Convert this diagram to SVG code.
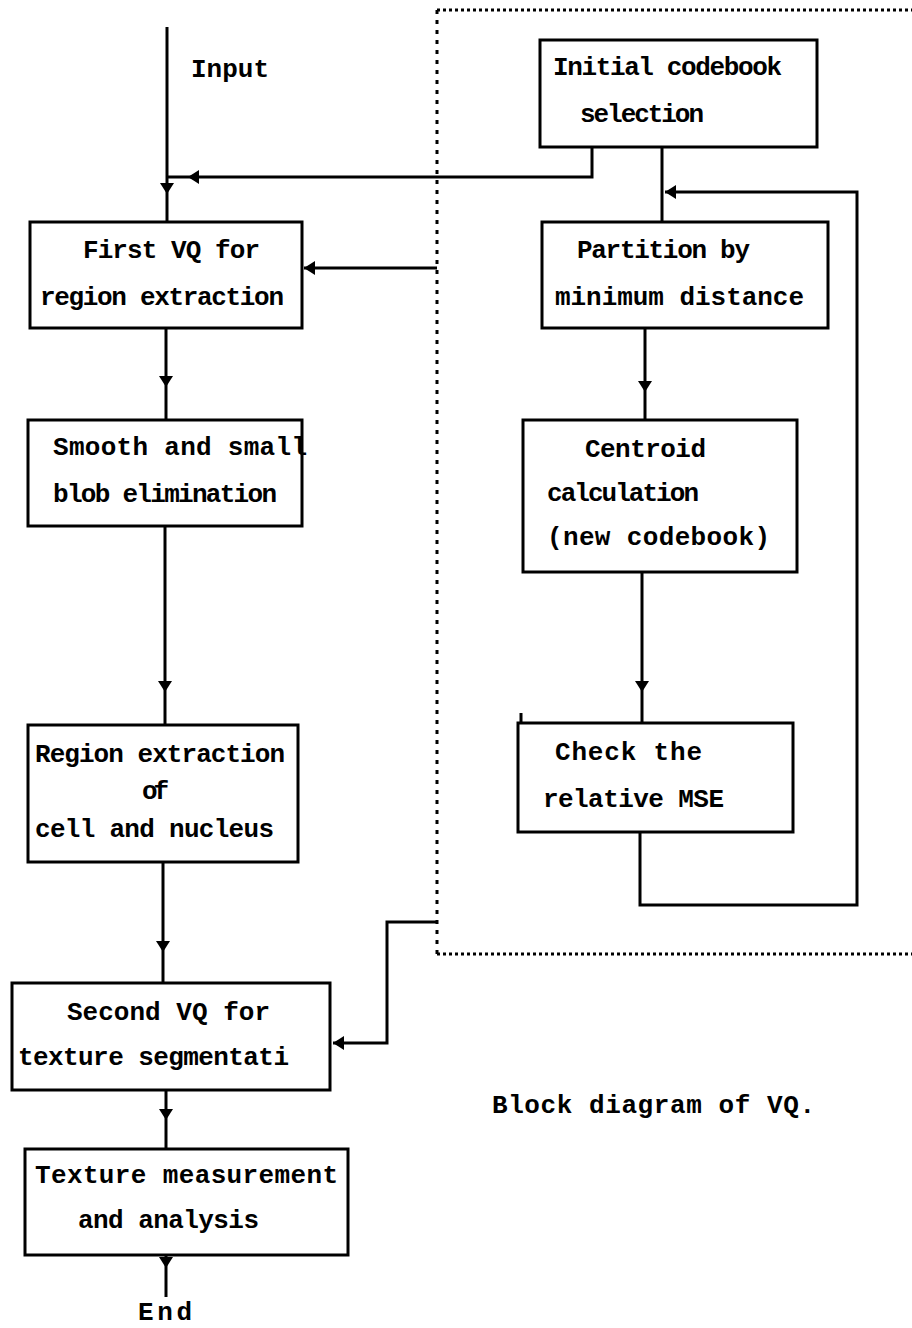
<svg xmlns="http://www.w3.org/2000/svg" xmlns:xlink="http://www.w3.org/1999/xlink" width="912" height="1328" viewBox="0 0 912 1328">
<style>
.box{fill:none;stroke:#000;stroke-width:3}
.ln{fill:none;stroke:#000;stroke-width:3;stroke-linejoin:miter}
.dot{fill:none;stroke:#000;stroke-width:3;stroke-dasharray:3 3}
.dotv{fill:none;stroke:#000;stroke-width:3;stroke-dasharray:4 6}
text{font-family:"Liberation Mono","Courier New",monospace;font-weight:bold;font-size:26px;fill:#000}
</style>
<defs>
<path id="ah" d="M0,0 L-11,-7 L-11,7 Z" fill="#000"/>
</defs>
<rect width="912" height="1328" fill="#fff"/>

<g id="frame">
<path class="dotv" d="M437,10 V954"/>
<path class="dot" d="M437,10 H912"/>
<path class="dot" d="M437,954 H912"/>
</g>

<g id="connectors">
<path class="ln" d="M167,27 V222"/>
<use xlink:href="#ah" transform="translate(167,194) rotate(90)"/>
<path class="ln" d="M592,147 V177 H167"/>
<use xlink:href="#ah" transform="translate(188,177) rotate(180)"/>
<path class="ln" d="M437,268 H304"/>
<use xlink:href="#ah" transform="translate(304,268) rotate(180)"/>
<path class="ln" d="M166,328 V420"/>
<use xlink:href="#ah" transform="translate(166,387) rotate(90)"/>
<path class="ln" d="M165,526 V725"/>
<use xlink:href="#ah" transform="translate(165,692) rotate(90)"/>
<path class="ln" d="M163,862 V983"/>
<use xlink:href="#ah" transform="translate(163,952) rotate(90)"/>
<path class="ln" d="M437,922 H387 V1043 H333"/>
<use xlink:href="#ah" transform="translate(333,1043) rotate(180)"/>
<path class="ln" d="M166,1090 V1149"/>
<use xlink:href="#ah" transform="translate(166,1120) rotate(90)"/>
<path class="ln" d="M166,1255 V1297"/>
<use xlink:href="#ah" transform="translate(166,1268) rotate(90)"/>
<path class="ln" d="M662,147 V222"/>
<path class="ln" d="M640,832 V905 H857 V192 H665"/>
<use xlink:href="#ah" transform="translate(665,192) rotate(180)"/>
<path class="ln" d="M645,328 V420"/>
<use xlink:href="#ah" transform="translate(645,392) rotate(90)"/>
<path class="ln" d="M642,572 V723"/>
<use xlink:href="#ah" transform="translate(642,692) rotate(90)"/>
</g>

<g id="input-label"><text x="191" y="77" textLength="78" lengthAdjust="spacing">Input</text></g>

<g id="initial">
<rect class="box" x="540" y="40" width="277" height="107"/>
<text x="553" y="75" textLength="229" lengthAdjust="spacing">Initial codebook</text>
<text x="580" y="122" textLength="124" lengthAdjust="spacing">selection</text>
</g>

<g id="first-vq">
<rect class="box" x="30" y="222" width="272" height="106"/>
<text x="83" y="258" textLength="177" lengthAdjust="spacing">First VQ for</text>
<text x="40" y="305" textLength="244" lengthAdjust="spacing">region extraction</text>
</g>

<g id="partition">
<rect class="box" x="542" y="222" width="286" height="106"/>
<text x="577" y="258" textLength="173" lengthAdjust="spacing">Partition by</text>
<text x="555" y="305" textLength="249" lengthAdjust="spacing">minimum distance</text>
</g>

<g id="smooth">
<text x="53" y="455" textLength="254" lengthAdjust="spacing">Smooth and small</text>
<text x="53" y="502" textLength="224" lengthAdjust="spacing">blob elimination</text>
<rect class="box" x="28" y="420" width="274" height="106"/>
</g>

<g id="centroid">
<rect class="box" x="523" y="420" width="274" height="152"/>
<text x="585" y="457" textLength="121" lengthAdjust="spacing">Centroid</text>
<text x="547" y="501" textLength="152" lengthAdjust="spacing">calculation</text>
<text x="547" y="545" textLength="223" lengthAdjust="spacing">(new codebook)</text>
</g>

<g id="check">
<rect class="box" x="518" y="723" width="275" height="109"/>
<path class="ln" d="M521,713 V723"/>
<text x="555" y="760" textLength="147" lengthAdjust="spacing">Check the</text>
<text x="543" y="807" textLength="181" lengthAdjust="spacing">relative MSE</text>
</g>

<g id="region">
<rect class="box" x="28" y="725" width="270" height="137"/>
<text x="35" y="762" textLength="250" lengthAdjust="spacing">Region extraction</text>
<text x="142" y="799" textLength="27" lengthAdjust="spacing">of</text>
<text x="35" y="837" textLength="239" lengthAdjust="spacing">cell and nucleus</text>
</g>

<g id="second-vq">
<rect class="box" x="12" y="983" width="318" height="107"/>
<text x="67" y="1020" textLength="203" lengthAdjust="spacing">Second VQ for</text>
<text x="18" y="1065" textLength="271" lengthAdjust="spacing">texture segmentati</text>
</g>

<g id="texture">
<rect class="box" x="25" y="1149" width="323" height="106"/>
<text x="35" y="1183" textLength="303" lengthAdjust="spacing">Texture measurement</text>
<text x="78" y="1228" textLength="181" lengthAdjust="spacing">and analysis</text>
</g>

<g id="end-label"><text x="138" y="1320" textLength="54" lengthAdjust="spacing">End</text></g>

<g id="caption"><text x="492" y="1113" textLength="323" lengthAdjust="spacing">Block diagram of VQ.</text></g>
</svg>
